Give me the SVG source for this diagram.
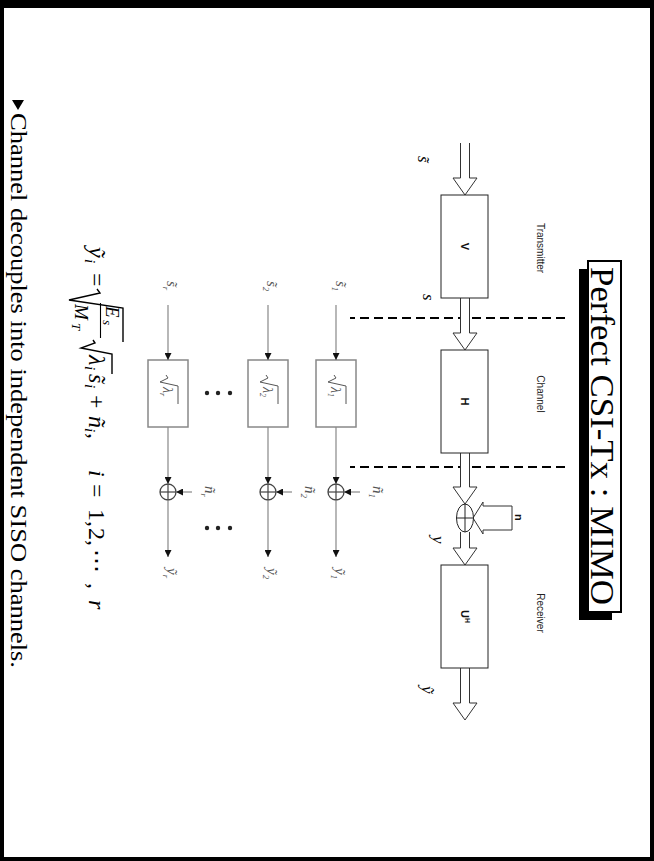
<svg xmlns="http://www.w3.org/2000/svg" width="654" height="861" viewBox="0 0 654 861">
<style>
.serif{font-family:"Liberation Serif","Times New Roman",serif;}
.lbl{font-family:"Liberation Sans",Arial,sans-serif;font-size:10px;fill:#222;}
.blbl{font-family:"Liberation Sans",Arial,sans-serif;font-size:11px;font-weight:bold;fill:#111;}
.box{fill:#fff;stroke:#222;stroke-width:1;}
.harrow{fill:#fff;stroke:#333;stroke-width:1;}
.dash{stroke:#000;stroke-width:2;stroke-dasharray:9,5;fill:none;}
.gline{stroke:#888;stroke-width:1.2;fill:none;}
.gbox{fill:#fff;stroke:#888;stroke-width:1.5;}
.gi{font-family:"Liberation Serif",serif;font-style:italic;fill:#555;}
.math{font-family:"Liberation Serif",serif;font-style:italic;fill:#000;}
.rm{font-family:"Liberation Serif",serif;fill:#000;}
</style>
<defs>
<marker id="ah" viewBox="0 0 8 8" refX="8" refY="4" markerWidth="7" markerHeight="7" markerUnits="userSpaceOnUse" orient="auto"><path d="M0,0 L8,4 L0,8 z" fill="#111"/></marker>
</defs>
<rect x="0" y="0" width="654" height="861" fill="#000"/>
<rect x="4" y="8" width="646" height="849" fill="#fff"/>
<g transform="translate(654,0) rotate(90)">
  <g id="title">
    <rect x="269" y="42" width="351" height="33" fill="#000"/>
    <rect x="261" y="33" width="351" height="33" fill="#fff" stroke="#000" stroke-width="2"/>
    <text x="267" y="63" class="serif" font-size="33" textLength="338" lengthAdjust="spacingAndGlyphs">Perfect CSI-Tx : MIMO</text>
  </g>
  <g id="section-labels">
    <text x="248" y="117" class="lbl" text-anchor="middle">Transmitter</text>
    <text x="394" y="117" class="lbl" text-anchor="middle">Channel</text>
    <text x="613" y="117" class="lbl" text-anchor="middle">Receiver</text>
  </g>
  <g id="dividers">
    <line x1="318" y1="89" x2="318" y2="304" class="dash"/>
    <line x1="467" y1="89" x2="467" y2="304" class="dash"/>
  </g>
  <g id="connectors">
    <polyline class="harrow" points="143,184.5 178,184.5 178,177 195,189 178,201 178,193.5 143,193.5"/>
    <polyline class="harrow" points="298,184.5 333,184.5 333,177 350,189 333,201 333,193.5 298,193.5"/>
    <polyline class="harrow" points="453,184.5 487,184.5 487,177 504,189 487,201 487,193.5 453,193.5"/>
    <polyline class="harrow" points="532,184.5 548,184.5 548,177 565,189 548,201 548,193.5 532,193.5"/>
    <polyline class="harrow" points="668,184.5 703,184.5 703,177 720,189 703,201 703,193.5 668,193.5"/>
    <polygon class="harrow" points="506,142 506,171 502,171 518,181 534,171 530,171 530,142"/>
  </g>
  <g id="node-V">
    <rect x="195" y="166" width="103" height="47" class="box"/>
    <text x="246.5" y="193" class="blbl" text-anchor="middle">V</text>
  </g>
  <g id="node-H">
    <rect x="350" y="166" width="103" height="47" class="box"/>
    <text x="401.5" y="193" class="blbl" text-anchor="middle">H</text>
  </g>
  <g id="node-sum">
    <ellipse cx="518" cy="189" rx="14" ry="8.5" fill="#fff" stroke="#222" stroke-width="1"/>
    <line x1="504" y1="189" x2="532" y2="189" stroke="#222"/>
    <line x1="518" y1="180.5" x2="518" y2="197.5" stroke="#222"/>
  </g>
  <g id="node-UH">
    <rect x="565" y="166" width="103" height="47" class="box"/>
    <text x="616.5" y="193" class="blbl" text-anchor="middle">U<tspan font-size="7" dy="-4">H</tspan></text>
  </g>
  <g id="signal-labels">
    <text x="156" y="236" class="math" font-size="17">s&#x303;</text>
    <text x="294" y="231" class="math" font-size="17">s</text>
    <text x="536" y="221" class="math" font-size="17">y</text>
    <text x="686" y="232" class="math" font-size="17">&#x1EF9;</text>
    <text x="514" y="139" class="blbl">n</text>
  </g>

  <g id="siso-1">
    <text x="281" y="318" class="gi" font-size="15">s&#x303;<tspan font-size="9" dy="4">1</tspan></text>
    <rect x="360" y="298" width="67" height="40" class="gbox"/>
    <path d="M375,320 L378,318 L382,326 L386,308 L404,308" fill="none" stroke="#555" stroke-width="1"/>
    <text x="387" y="323" class="gi" font-size="14">λ<tspan font-size="8" dy="3">1</tspan></text>
    <circle cx="492" cy="318" r="8" fill="#fff" stroke="#444" stroke-width="1.3"/>
    <line x1="484" y1="318" x2="500" y2="318" stroke="#444" stroke-width="1.2"/>
    <line x1="492" y1="310" x2="492" y2="326" stroke="#444" stroke-width="1.2"/>
    <text x="486" y="281" class="gi" font-size="15">ñ<tspan font-size="9" dy="4">1</tspan></text>
    <text x="568" y="319" class="gi" font-size="15">&#x1EF9;<tspan font-size="9" dy="4">1</tspan></text>
  </g>
  <g id="siso-2">
    <text x="281" y="387" class="gi" font-size="15">s&#x303;<tspan font-size="9" dy="4">2</tspan></text>
    <rect x="360" y="366" width="67" height="40" class="gbox"/>
    <path d="M375,388 L378,386 L382,394 L386,376 L404,376" fill="none" stroke="#555" stroke-width="1"/>
    <text x="387" y="391" class="gi" font-size="14">λ<tspan font-size="8" dy="3">2</tspan></text>
    <circle cx="492" cy="386" r="8" fill="#fff" stroke="#444" stroke-width="1.3"/>
    <line x1="484" y1="386" x2="500" y2="386" stroke="#444" stroke-width="1.2"/>
    <line x1="492" y1="378" x2="492" y2="394" stroke="#444" stroke-width="1.2"/>
    <text x="486" y="349" class="gi" font-size="15">ñ<tspan font-size="9" dy="4">2</tspan></text>
    <text x="568" y="387" class="gi" font-size="15">&#x1EF9;<tspan font-size="9" dy="4">2</tspan></text>
  </g>
  <g id="siso-r">
    <text x="281" y="487" class="gi" font-size="15">s&#x303;<tspan font-size="9" dy="4">r</tspan></text>
    <rect x="360" y="466" width="67" height="40" class="gbox"/>
    <path d="M375,488 L378,486 L382,494 L386,476 L404,476" fill="none" stroke="#555" stroke-width="1"/>
    <text x="387" y="491" class="gi" font-size="14">λ<tspan font-size="8" dy="3">r</tspan></text>
    <circle cx="492" cy="486" r="8" fill="#fff" stroke="#444" stroke-width="1.3"/>
    <line x1="484" y1="486" x2="500" y2="486" stroke="#444" stroke-width="1.2"/>
    <line x1="492" y1="478" x2="492" y2="494" stroke="#444" stroke-width="1.2"/>
    <text x="486" y="449" class="gi" font-size="15">ñ<tspan font-size="9" dy="4">r</tspan></text>
    <text x="568" y="487" class="gi" font-size="15">&#x1EF9;<tspan font-size="9" dy="4">r</tspan></text>
  </g>
  <g id="siso-connectors">
    <line x1="305" y1="318" x2="360" y2="318" class="gline" marker-end="url(#ah)"/>
    <line x1="427" y1="318" x2="484" y2="318" class="gline" marker-end="url(#ah)"/>
    <line x1="492" y1="294" x2="492" y2="310" class="gline" marker-end="url(#ah)"/>
    <line x1="500" y1="318" x2="557" y2="318" class="gline" marker-end="url(#ah)"/>
    <line x1="305" y1="386" x2="360" y2="386" class="gline" marker-end="url(#ah)"/>
    <line x1="427" y1="386" x2="484" y2="386" class="gline" marker-end="url(#ah)"/>
    <line x1="492" y1="362" x2="492" y2="378" class="gline" marker-end="url(#ah)"/>
    <line x1="500" y1="386" x2="557" y2="386" class="gline" marker-end="url(#ah)"/>
    <line x1="305" y1="486" x2="360" y2="486" class="gline" marker-end="url(#ah)"/>
    <line x1="427" y1="486" x2="484" y2="486" class="gline" marker-end="url(#ah)"/>
    <line x1="492" y1="462" x2="492" y2="478" class="gline" marker-end="url(#ah)"/>
    <line x1="500" y1="486" x2="557" y2="486" class="gline" marker-end="url(#ah)"/>
  </g>
  <g id="ellipses" fill="#222">
    <circle cx="393" cy="424" r="2.2"/><circle cx="393" cy="436" r="2.2"/><circle cx="393" cy="447" r="2.2"/>
    <circle cx="528" cy="424" r="2.2"/><circle cx="528" cy="436" r="2.2"/><circle cx="528" cy="447" r="2.2"/>
  </g>

  <g id="formula">
    <text x="247" y="565" class="math" font-size="24">&#x1EF9;</text>
    <text x="259" y="569" class="math" font-size="15">i</text>
    <text x="273" y="565" class="rm" font-size="24">=</text>
    <path d="M289,557 L293,554 L300,585 L308,531 L342,531" fill="none" stroke="#000" stroke-width="1.4"/>
    <text x="306" y="548" class="math" font-size="19">E</text>
    <text x="320" y="551" class="math" font-size="13">s</text>
    <line x1="303" y1="553.5" x2="338" y2="553.5" stroke="#000" stroke-width="1.1"/>
    <text x="304" y="579" class="math" font-size="19">M</text>
    <text x="323" y="582" class="math" font-size="13">T</text>
    <path d="M340,561 L343,559 L348,573 L354,542 L374,542" fill="none" stroke="#000" stroke-width="1.4"/>
    <text x="355" y="565" class="math" font-size="24">λ</text>
    <text x="366" y="569" class="math" font-size="15">i</text>
    <text x="374" y="565" class="math" font-size="24">s&#x303;</text>
    <text x="384" y="569" class="math" font-size="15">i</text>
    <text x="395" y="565" class="rm" font-size="24">+</text>
    <text x="416" y="565" class="math" font-size="24">ñ</text>
    <text x="428" y="569" class="math" font-size="15">i</text>
    <text x="433" y="565" class="rm" font-size="24">,</text>
    <text x="470" y="565" class="math" font-size="24">i</text>
    <text x="484" y="565" class="rm" font-size="24">=</text>
    <text x="509" y="565" class="rm" font-size="24">1,</text>
    <text x="528" y="565" class="rm" font-size="24">2,</text>
    <text x="549" y="565" class="rm" font-size="24">⋯</text>
    <text x="583" y="565" class="rm" font-size="24">,</text>
    <text x="600" y="565" class="math" font-size="24">r</text>
  </g>

  <g id="bullet">
    <polygon points="100,630 110,636 100,642" fill="#000"/>
    <text x="113" y="643" class="serif" font-size="23.5" textLength="555" lengthAdjust="spacingAndGlyphs">Channel decouples into independent SISO channels.</text>
  </g>
</g>
</svg>
